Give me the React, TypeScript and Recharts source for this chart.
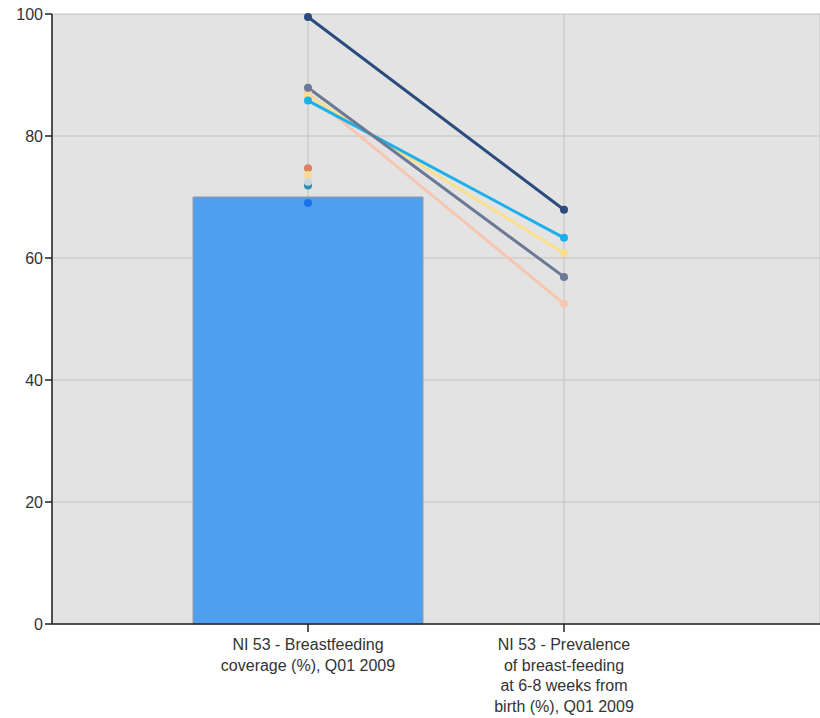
import { ComposedChart, Bar, Line, XAxis, YAxis, CartesianGrid } from 'recharts';

const CATEGORIES = [
    "NI 53 - Breastfeeding coverage (%), Q01 2009",
    "NI 53 - Prevalence of breast-feeding at 6-8 weeks from birth (%), Q01 2009",
];
const CATEGORY_LINES = [
    ["NI 53 - Breastfeeding", "coverage (%), Q01 2009"],
    ["NI 53 - Prevalence", "of breast-feeding", "at 6-8 weeks from", "birth (%), Q01 2009"],
];
const BAR_VALUES = [70, null];
const Y_TICKS = [0, 20, 40, 60, 80, 100];

const SERIES = [
    { key: "s1", color: "#2b4b7e", values: [99.5, 67.9] },
    { key: "s2", color: "#f7c6b2", values: [87.0, 52.5] },
    { key: "s3", color: "#f9e08e", values: [86.6, 60.8] },
    { key: "s4", color: "#1cb0ea", values: [85.8, 63.3] },
    { key: "s5", color: "#6b7896", values: [87.9, 56.9] },
    { key: "s6", color: "#d9825f", values: [74.7, null] },
    { key: "s7", color: "#2d8fb3", values: [71.9, null] },
    { key: "s8", color: "#f6dc95", values: [73.6, null] },
    { key: "s9", color: "#cdd6de", values: [72.5, null] },
    { key: "s10", color: "#1a73e8", values: [69.0, null] },
];

const data = CATEGORIES.map((name, i) => {
    const row: Record<string, any> = { name, bar: BAR_VALUES[i] };
    SERIES.forEach((s) => { row[s.key] = s.values[i]; });
    return row;
});

const FONT = '"Liberation Sans", Arial, sans-serif';
const AXIS_Y = 624;

function CategoryTick(props: any) {
    const { x, index } = props;
    const lines = CATEGORY_LINES[index] || [];
    return (
        <g>
            <line x1={x} y1={AXIS_Y} x2={x} y2={AXIS_Y + 8} stroke="#222" strokeWidth={1.5} />
            <text x={x} y={AXIS_Y + 26} textAnchor="middle" fill="#333" fontSize={16} fontFamily={FONT}>
                {lines.map((l, i) => (
                    <tspan key={i} x={x} dy={i === 0 ? 0 : 20.5}>{l}</tspan>
                ))}
            </text>
        </g>
    );
}

export default function App() {
    return (
        <div style={{ position: 'fixed', left: 0, top: 0, background: '#fff' }}>
            <ComposedChart
                width={820}
                height={718}
                data={data}
                margin={{ top: 14, right: 0, left: 0, bottom: 0 }}
            >
                <CartesianGrid fill="#e3e3e3" stroke="#c2c2c2" strokeWidth={1} />
                <XAxis
                    dataKey="name"
                    height={94}
                    padding={{ left: 128, right: 128 }}
                    axisLine={{ stroke: '#222', strokeWidth: 1.5 }}
                    tickLine={false}
                    tick={<CategoryTick />}
                    interval={0}
                />
                <YAxis
                    width={52}
                    domain={[0, 100]}
                    ticks={Y_TICKS}
                    axisLine={{ stroke: '#222', strokeWidth: 1.5 }}
                    tickLine={{ stroke: '#222', strokeWidth: 1.5 }}
                    tickSize={7}
                    tick={{ fill: '#333', fontSize: 16, fontFamily: FONT }}
                />
                <Bar dataKey="bar" barSize={230} fill="#4f9ff0" stroke="#9a9a9a" strokeWidth={1} isAnimationActive={false} />
                {SERIES.map((s) => (
                    <Line
                        key={s.key}
                        dataKey={s.key}
                        stroke={s.color}
                        strokeWidth={3}
                        dot={{ r: 4, fill: s.color, stroke: s.color, strokeWidth: 0 }}
                        activeDot={false}
                        isAnimationActive={false}
                    />
                ))}
            </ComposedChart>
        </div>
    );
}
